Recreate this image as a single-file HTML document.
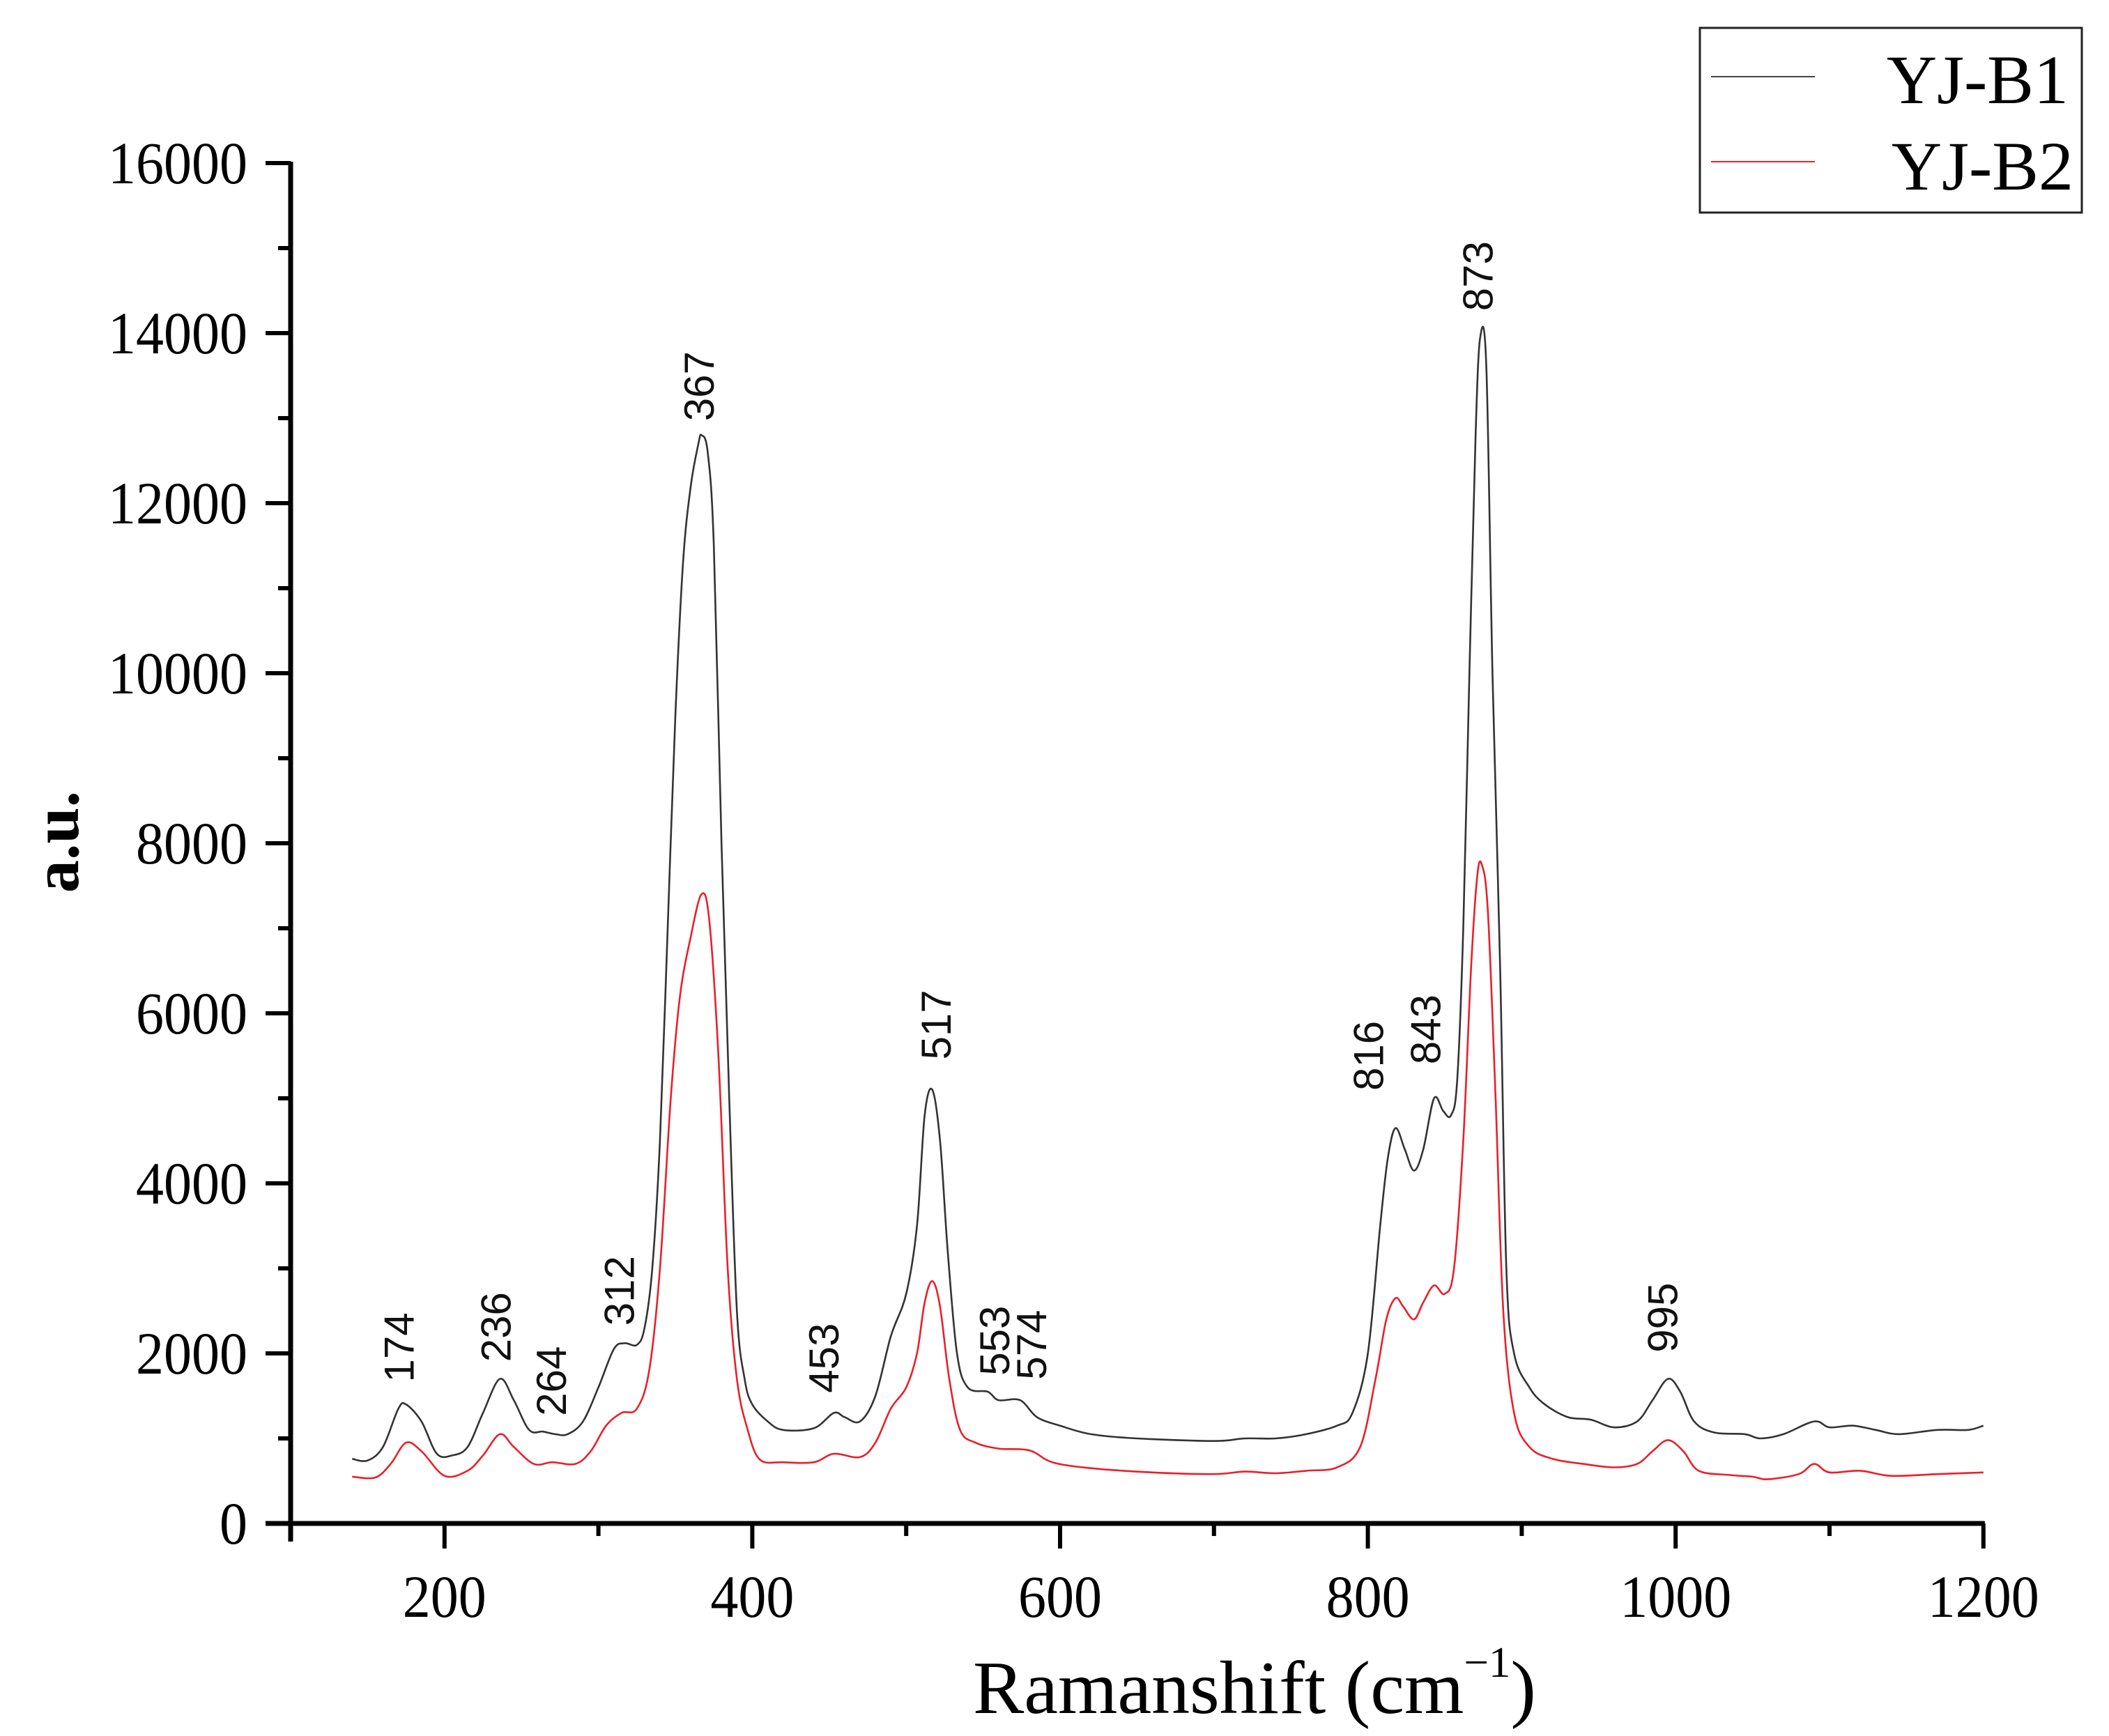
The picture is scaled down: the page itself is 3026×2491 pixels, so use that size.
<!DOCTYPE html>
<html><head><meta charset="utf-8"><style>html,body{margin:0;padding:0;background:#fff}svg{display:block}</style></head>
<body>
<svg id="chart" width="3026" height="2491" viewBox="0 0 3026 2491" xmlns="http://www.w3.org/2000/svg">
<rect width="3026" height="2491" fill="#fff"/>
<g id="axes"></g>
<g id="series"></g>
<g id="labels"></g>
<text x="1396" y="2458" font-family="Liberation Serif, serif" font-size="108" textLength="808" lengthAdjust="spacingAndGlyphs">Ramanshift (cm<tspan font-size="62" dy="-52">−1</tspan><tspan dy="52">)</tspan></text>
<text transform="translate(112,1208) rotate(-90)" font-family="Liberation Serif, serif" font-size="94" font-weight="bold" text-anchor="middle">a.u.</text>
<g>
<rect x="2439" y="40" width="548" height="265" fill="#fff" stroke="#222" stroke-width="3"/>
<line x1="2455" y1="110" x2="2604" y2="110" stroke="#444" stroke-width="2"/>
<text x="2968" y="148" font-family="Liberation Serif, serif" font-size="100" text-anchor="end">YJ-B1</text>
<line x1="2455" y1="232" x2="2604" y2="232" stroke="#e8202a" stroke-width="2"/>
<text x="2975" y="272" font-family="Liberation Serif, serif" font-size="100" text-anchor="end">YJ-B2</text>
</g>
</svg>
<script>
const xTicks = [200,400,600,800,1000,1200];
const yTicks = [0,2000,4000,6000,8000,10000,12000,14000,16000];
const b1X = [140,150,160,170,175,185,195,205,215,225,236,245,255,264,272,280,290,300,310,317,325,330,335,340,345,350,355,360,365,367,371,375,380,385,390,395,400,410,420,440,453,460,470,480,490,500,507,512,517,522,527,533,540,553,560,574,585,600,620,650,700,720,740,760,780,790,800,808,813,818,824,830,836,843,849,854,858,862,866,870,873,877,881,886,890,895,905,915,930,945,960,975,985,995,1003,1012,1025,1045,1055,1070,1090,1100,1115,1130,1145,1170,1190,1200];
const b1Y = [760,740,900,1350,1400,1200,820,800,900,1300,1700,1450,1100,1080,1050,1050,1200,1600,2050,2120,2100,2300,3000,4500,7000,9500,11300,12200,12700,12800,12600,11500,8000,5000,2500,1700,1400,1200,1100,1120,1300,1250,1200,1500,2200,2700,3500,4800,5100,4500,3200,2000,1600,1550,1450,1450,1250,1150,1050,1000,970,1000,1000,1050,1150,1300,2000,3500,4300,4650,4400,4150,4400,5000,4850,4800,5200,7000,10000,12800,13950,13600,10000,6500,3000,2000,1600,1400,1250,1220,1130,1200,1450,1700,1550,1200,1070,1050,1000,1050,1200,1130,1150,1100,1050,1100,1100,1150];
const b2X = [140,155,165,175,185,200,215,225,236,245,258,270,285,295,305,315,325,333,340,347,353,360,367,372,378,384,390,397,405,420,440,453,470,480,490,500,507,512,517,522,528,535,545,560,580,595,620,660,700,720,740,760,780,795,805,812,818,823,830,836,843,850,856,862,867,871,874,878,883,888,895,905,920,940,960,975,985,995,1005,1015,1035,1050,1060,1080,1090,1100,1120,1140,1170,1200];
const b2Y = [550,540,700,950,850,560,620,800,1050,900,700,720,700,850,1150,1300,1350,1800,3000,5000,6200,6900,7400,7100,5500,3000,1700,1100,750,720,720,820,780,950,1350,1600,2000,2600,2850,2550,1700,1100,950,880,860,720,650,600,580,610,590,620,660,900,1700,2400,2650,2550,2400,2600,2800,2700,3000,4500,6500,7600,7750,7200,5000,2500,1300,900,760,700,660,700,850,980,850,620,570,550,520,580,700,600,620,560,580,600];
const peakText = ["174","236","264","312","367","453","517","553","574","816","843","873","995"];
const peakPosX = [170,233,269,313,365,446,519,557,581,800,837,871,991];
const peakPosY = [1660,1900,1265,2325,12965,1535,5455,1740,1690,5090,5400,14260,2010];

const NS = "http://www.w3.org/2000/svg";
const X0 = 417, PXX = 2.208, Y0 = 2186, PXY = 0.122;
const sx = v => X0 + (v - 100) * PXX;
const sy = v => Y0 - v * PXY;
function mk(tag, attrs, parent){const e=document.createElementNS(NS,tag);for(const k in attrs)e.setAttribute(k,attrs[k]);parent.appendChild(e);return e;}
const axes = document.getElementById('axes');
const yAxis = mk('line',{x1:X0,y1:sy(16000)-2,x2:X0,y2:Y0+26,stroke:'#000','stroke-width':7},axes);


const xAxis = mk('line',{x1:X0-36,y1:Y0,x2:sx(1200)+2,y2:Y0,stroke:'#000','stroke-width':7},axes);


yTicks.forEach(v=>{
  const t = mk('line',{x1:X0-36,y1:sy(v),x2:X0,y2:sy(v),stroke:'#000','stroke-width':6},axes);
  
  
  const s = String(v);
  const l = mk('text',{x:X0-62,y:sy(v)+29,'font-family':'Liberation Serif, serif','font-size':86,'text-anchor':'end',textLength:s.length*40,lengthAdjust:'spacingAndGlyphs'},axes);
  l.textContent = s;
  
  
  if(v<16000){
    const m = mk('line',{x1:X0-18,y1:sy(v+1000),x2:X0,y2:sy(v+1000),stroke:'#000','stroke-width':6},axes);
    
    
  }
});
xTicks.forEach(v=>{
  const t = mk('line',{x1:sx(v),y1:Y0,x2:sx(v),y2:Y0+36,stroke:'#000','stroke-width':6},axes);
  
  
  const m = mk('line',{x1:sx(v-100),y1:Y0,x2:sx(v-100),y2:Y0+18,stroke:'#000','stroke-width':6},axes);
  
  
  const s = String(v);
  const l = mk('text',{x:sx(v),y:Y0+134,'font-family':'Liberation Serif, serif','font-size':86,'text-anchor':'middle',textLength:s.length*40,lengthAdjust:'spacingAndGlyphs'},axes);
  l.textContent = s;
  
  
});
const series = document.getElementById('series');
function smooth(xs,ys){
  const P = xs.map((x,i)=>[sx(x),sy(ys[i])]);
  let d = 'M'+P[0][0].toFixed(1)+','+P[0][1].toFixed(1);
  for(let i=0;i<P.length-1;i++){
    const p0=P[Math.max(0,i-1)],p1=P[i],p2=P[i+1],p3=P[Math.min(P.length-1,i+2)];
    const c1=[p1[0]+(p2[0]-p0[0])/6,p1[1]+(p2[1]-p0[1])/6];
    const c2=[p2[0]-(p3[0]-p1[0])/6,p2[1]-(p3[1]-p1[1])/6];
    d+=' C'+c1[0].toFixed(1)+','+c1[1].toFixed(1)+' '+c2[0].toFixed(1)+','+c2[1].toFixed(1)+' '+p2[0].toFixed(1)+','+p2[1].toFixed(1);
  }
  return d;
}
const p2 = mk('path',{d:smooth(b2X,b2Y),fill:'none',stroke:'#e8202a','stroke-width':2.6,'stroke-linejoin':'round'},series);


const p1 = mk('path',{d:smooth(b1X,b1Y),fill:'none',stroke:'#333','stroke-width':2.6,'stroke-linejoin':'round'},series);


const labels = document.getElementById('labels');
peakText.forEach((s,i)=>{
  const x = sx(peakPosX[i]) + 22, y = sy(peakPosY[i]);
  const t = mk('text',{transform:`translate(${x.toFixed(1)},${y.toFixed(1)}) rotate(-90)`,'font-family':'Liberation Sans, sans-serif','font-size':60,fill:'#111'},labels);
  t.textContent = s;
  
  
});
</script>
</body></html>
